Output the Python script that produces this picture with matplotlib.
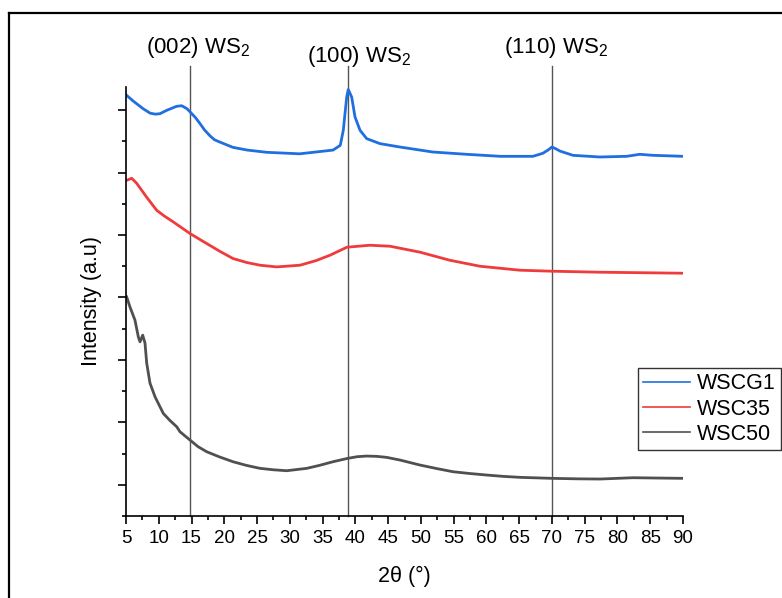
import matplotlib
matplotlib.use("Agg")
import matplotlib.pyplot as plt
from matplotlib.lines import Line2D
from matplotlib.ticker import MultipleLocator, NullFormatter

plt.rcParams["font.family"] = ["Liberation Sans", "DejaVu Sans"]
plt.rcParams["mathtext.fontset"] = "custom"
plt.rcParams["mathtext.rm"] = "Liberation Sans"
plt.rcParams["mathtext.it"] = "Liberation Sans:italic"
plt.rcParams["mathtext.default"] = "regular"

# --- XRD patterns (2theta in degrees, intensity in a.u., stacked) ---
wscg1_2theta = [5.1, 6.1, 7.6, 8.7, 9.5, 10.2, 11.2, 12.7, 13.5, 14.3, 14.8, 15.6, 16.3,
                17.0, 17.8, 18.5, 19.3, 21.3, 23.5, 26.5, 31.5, 36.6, 37.7, 38.16, 38.68,
                38.92, 39.44, 39.95, 40.72, 41.73, 43.76, 46.8, 51.8, 57.0, 62.1, 67.1,
                68.6, 69.4, 70.0, 70.6, 71.2, 73.2, 77.3, 81.4, 83.4, 85.4, 90.0]
wscg1_int = [6236, 6145, 6023, 5950, 5935, 5943, 5996, 6060, 6070, 6023, 5969, 5880, 5783,
             5680, 5590, 5525, 5489, 5404, 5360, 5324, 5300, 5360, 5436, 5676, 6209,
             6330, 6209, 5889, 5676, 5543, 5463, 5409, 5329, 5292, 5260, 5260,
             5308, 5360, 5409, 5380, 5345, 5276, 5249, 5260, 5292, 5276, 5260]

wsc35_2theta = [5.1, 5.87, 6.63, 8.16, 9.68, 10.9, 12.22, 14.77, 17.32, 19.3, 21.33,
                23.4, 25.45, 28.0, 31.55, 34.0, 36.13, 38.7, 42.2, 45.3, 49.9, 54.4,
                59.0, 65.1, 70.0, 77.3, 90.0]
wsc35_int = [4876, 4908, 4828, 4604, 4396, 4300, 4209, 4023, 3863, 3740, 3623,
             3560, 3516, 3489, 3516, 3590, 3676, 3804, 3836, 3820, 3724, 3596,
             3500, 3436, 3420, 3404, 3388]

wsc50_2theta = [5.1, 5.6, 6.37, 6.88, 7.14, 7.55, 7.9, 8.16, 8.66, 9.43, 10.69, 11.7,
                12.74, 13.24, 14.77, 16.0, 17.32, 19.3, 21.33, 23.4, 25.45, 27.5, 29.52,
                32.58, 34.5, 36.59, 38.83, 40.3, 41.73, 43.3, 44.78, 46.81, 49.86, 52.4,
                54.9, 57.5, 60.04, 62.5, 65.13, 70.0, 74.0, 77.33, 82.37, 86.0, 90.0]
wsc50_int = [3009, 2849, 2636, 2369, 2289, 2396, 2268, 1948, 1628, 1409, 1143, 1030,
             929, 849, 716, 610, 529, 445, 369, 310, 263, 240, 225,
             263, 310, 369, 423, 450, 460, 455, 439, 396, 316, 260,
             209, 180, 156, 135, 119, 103, 95, 92, 113, 108, 103]

series_names = ["WSCG1", "WSC35", "WSC50"]
series_colors = ["#1f6fe0", "#ef3b3b", "#505050"]

# reference reflections of WS2
peak_positions = [14.7, 38.9, 70.0]
peak_labels = ["(002) WS$_2$", "(100) WS$_2$", "(110) WS$_2$"]

W, H = 782, 598
fig = plt.figure(figsize=(W / 100, H / 100), dpi=100)


def fx(px):
    return px / W


def fy(py):
    return 1 - py / H


ax = fig.add_axes([fx(126), fy(516), fx(683) - fx(126), fy(87) - fy(516)])

for xs, ys, name, col in zip([wscg1_2theta, wsc35_2theta, wsc50_2theta],
                             [wscg1_int, wsc35_int, wsc50_int],
                             series_names, series_colors):
    ax.plot(xs, ys, color=col, lw=2.0, label=name, solid_joinstyle="round")

ax.set_xlim(5, 90)
ax.set_ylim(-500, 6370)

for xp in peak_positions:
    ax.plot([xp, xp], [-500, 6700], color="#555555", lw=1.0, clip_on=False, zorder=1)

label_pos = [(198, 53), (359, 62), (556, 53)]
for (cx, by), txt in zip(label_pos, peak_labels):
    fig.text(fx(cx), fy(by), txt, ha="center", va="baseline", fontsize=16)

for s in ["top", "right"]:
    ax.spines[s].set_visible(False)
for s in ["left", "bottom"]:
    ax.spines[s].set_linewidth(1.2)

ax.xaxis.set_major_locator(MultipleLocator(5))
ax.xaxis.set_minor_locator(MultipleLocator(2.5))
ax.yaxis.set_major_locator(MultipleLocator(1000))
ax.yaxis.set_minor_locator(MultipleLocator(500))
ax.yaxis.set_major_formatter(NullFormatter())
ax.tick_params(which="major", direction="out", length=6, width=1.2, labelsize=13.5, pad=4)
ax.tick_params(which="minor", direction="out", length=3.2, width=1.2)

ax.set_xlabel("2θ (°)", fontsize=15.5, labelpad=14)
ax.set_ylabel("Intensity (a.u)", fontsize=15.5, labelpad=7)

leg = ax.legend(loc="upper right", bbox_to_anchor=(fx(781), fy(368)),
                bbox_transform=fig.transFigure, fontsize=15.5, frameon=True,
                fancybox=False, borderpad=0.25, handlelength=2.2,
                handletextpad=0.3, labelspacing=0.2, borderaxespad=0)
leg.get_frame().set_edgecolor("black")
leg.get_frame().set_linewidth(1.0)
for h in leg.get_lines():
    h.set_linewidth(1.2)

# figure frame
fig.add_artist(Line2D([fx(8.5), 1.0], [fy(12.5), fy(12.5)], color="black", lw=1.6,
                      transform=fig.transFigure))
fig.add_artist(Line2D([fx(8.5), fx(8.5)], [fy(12.5), 0.0], color="black", lw=1.6,
                      transform=fig.transFigure))

fig.savefig("out.png", dpi=100)
